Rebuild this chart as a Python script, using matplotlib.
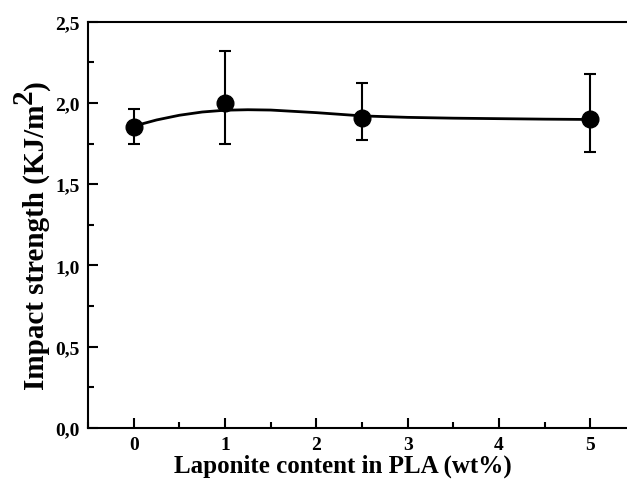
import numpy as np
import matplotlib
matplotlib.use("Agg")
import matplotlib.pyplot as plt
from matplotlib.ticker import MultipleLocator, FuncFormatter

plt.rcParams['font.family'] = ['Liberation Serif', 'DejaVu Serif']
plt.rcParams['font.weight'] = 'bold'

# measured points
laponite = [0, 1, 2.5, 5]
impact = [1.85, 2.00, 1.91, 1.90]
err_low = [1.75, 1.745, 1.772, 1.70]
err_high = [1.96, 2.32, 2.12, 2.18]

# smooth trend line
curve_x = [0, 0.25, 0.5, 0.75, 1.0, 1.25, 1.5, 2.0, 2.5, 3.0, 3.5, 4.0, 4.5, 5.0]
curve_y = [1.857, 1.895, 1.924, 1.944, 1.955, 1.958, 1.956, 1.94, 1.92, 1.911, 1.906, 1.903, 1.900, 1.898]

yerr = [np.array(impact) - np.array(err_low), np.array(err_high) - np.array(impact)]

fig = plt.figure(figsize=(6.27, 4.81), dpi=100)
ax = fig.add_axes([0.1404, 0.108, 0.8596, 0.845])

ax.plot(curve_x, curve_y, color='black', linewidth=2.0, zorder=2)
ax.errorbar(laponite, impact, yerr=yerr, fmt='o', color='black', markersize=12,
            ecolor='black', elinewidth=1.5, capsize=4, capthick=1.5, zorder=3)

ax.set_xlim(-0.5, 5.4)
ax.set_ylim(0, 2.5)
ax.xaxis.set_major_locator(MultipleLocator(1))
ax.xaxis.set_minor_locator(MultipleLocator(0.5))
ax.yaxis.set_major_locator(MultipleLocator(0.5))
ax.yaxis.set_minor_locator(MultipleLocator(0.25))
ax.yaxis.set_major_formatter(FuncFormatter(lambda v, p: f"{v:.1f}".replace('.', ',')))
ax.tick_params(which='both', direction='in', width=1.5, labelsize=14)
ax.tick_params(which='major', length=7)
ax.tick_params(which='minor', length=4)
ax.tick_params(axis='x', pad=6)
ax.tick_params(axis='y', pad=6)
ax.spines['right'].set_visible(False)
for s in ['left', 'bottom', 'top']:
    ax.spines[s].set_linewidth(1.5)

ax.set_xlabel("Laponite content in PLA (wt%)", fontsize=18, fontweight='bold')
ax.xaxis.set_label_coords(0.473, -0.062)

# y label with a full-size raised "2"
ysize = 21
t1 = fig.text(50 / 627, 1 - 390 / 481, "Impact strength (KJ/m", rotation=90,
              fontsize=ysize, fontweight='bold', ha='right', va='bottom')
t2 = ax.annotate("2", xy=(1, 1), xycoords=t1, xytext=(-9, 0), textcoords='offset points',
                 rotation=90, fontsize=ysize, fontweight='bold', ha='right', va='bottom',
                 annotation_clip=False)
ax.annotate(")", xy=(1, 1), xycoords=(t1, t2), rotation=90, fontsize=ysize,
            fontweight='bold', ha='right', va='bottom', annotation_clip=False)

fig.savefig("out.png", dpi=100)
